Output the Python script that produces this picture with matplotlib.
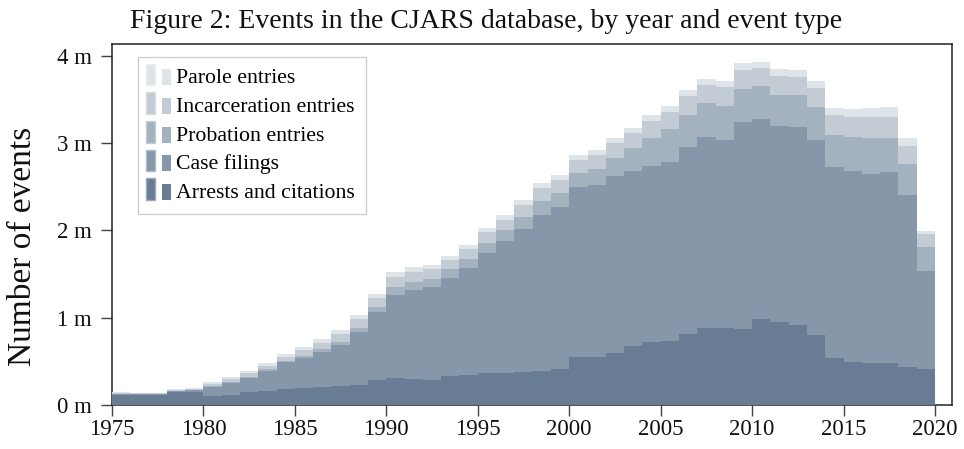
import matplotlib
matplotlib.use("Agg")
import matplotlib.pyplot as plt
import numpy as np
from matplotlib.patches import Rectangle
from matplotlib.legend_handler import HandlerBase
from matplotlib.colors import to_rgb

# ---- data (millions of events) ----
years = list(range(1975, 2020))
arrests = [0.111, 0.115, 0.115, 0.145, 0.149, 0.103, 0.115, 0.153, 0.164, 0.185,
           0.195, 0.210, 0.221, 0.233, 0.286, 0.309, 0.298, 0.286, 0.332, 0.347,
           0.363, 0.370, 0.382, 0.389, 0.412, 0.553, 0.553, 0.595, 0.679, 0.725,
           0.733, 0.813, 0.885, 0.885, 0.874, 0.985, 0.950, 0.916, 0.805, 0.542,
           0.496, 0.485, 0.481, 0.435, 0.412]
case_filings = [0.014, 0.008, 0.008, 0.015, 0.019, 0.103, 0.137, 0.160, 0.229, 0.302,
                0.343, 0.401, 0.466, 0.603, 0.779, 0.951, 1.019, 1.069, 1.126, 1.226,
                1.377, 1.508, 1.633, 1.787, 1.855, 1.943, 1.962, 2.027, 2.000, 2.012,
                2.049, 2.141, 2.184, 2.153, 2.366, 2.290, 2.248, 2.267, 2.233, 2.187,
                2.183, 2.164, 2.187, 1.970, 1.126]
probation = [0.003, 0.002, 0.002, 0.003, 0.004, 0.009, 0.010, 0.012, 0.017, 0.018,
             0.023, 0.030, 0.038, 0.049, 0.061, 0.087, 0.095, 0.092, 0.095, 0.103,
             0.115, 0.126, 0.138, 0.160, 0.160, 0.157, 0.187, 0.206, 0.264, 0.320,
             0.378, 0.367, 0.393, 0.386, 0.378, 0.378, 0.352, 0.367, 0.374, 0.363,
             0.390, 0.412, 0.393, 0.355, 0.271]
incarceration = [0.010, 0.007, 0.007, 0.012, 0.013, 0.030, 0.036, 0.037, 0.042, 0.043,
                 0.069, 0.073, 0.092, 0.100, 0.099, 0.119, 0.115, 0.106, 0.107, 0.106,
                 0.122, 0.114, 0.137, 0.149, 0.149, 0.152, 0.161, 0.172, 0.172, 0.199,
                 0.195, 0.217, 0.202, 0.217, 0.222, 0.206, 0.221, 0.210, 0.222, 0.232,
                 0.233, 0.237, 0.237, 0.206, 0.153]
parole = [0.007, 0.005, 0.005, 0.008, 0.010, 0.020, 0.022, 0.027, 0.031, 0.036,
          0.038, 0.042, 0.042, 0.049, 0.046, 0.057, 0.053, 0.050, 0.046, 0.050,
          0.046, 0.058, 0.057, 0.057, 0.058, 0.058, 0.057, 0.057, 0.057, 0.065,
          0.069, 0.069, 0.069, 0.069, 0.076, 0.068, 0.076, 0.076, 0.076, 0.077,
          0.091, 0.103, 0.118, 0.095, 0.030]

labels = ["Arrests and citations", "Case filings", "Probation entries",
          "Incarceration entries", "Parole entries"]
colors = ["#687c93", "#8697a9", "#a4b1be", "#c3cbd4", "#dfe4e9"]
x_ticks = [1975, 1980, 1985, 1990, 1995, 2000, 2005, 2010, 2015, 2020]
y_ticks = [0, 1, 2, 3, 4]
y_ticklabels = ["0 m", "1 m", "2 m", "3 m", "4 m"]

plt.rcParams["font.family"] = ["Liberation Serif", "DejaVu Serif"]

fig = plt.figure(figsize=(9.64, 4.49), dpi=100)
ax = fig.add_axes([112 / 964, 1 - 405 / 449, 840 / 964, 361 / 449])

edges = np.append(np.array(years), years[-1] + 1)
base = np.zeros(len(years))
handles = []
for lab, vals, col in zip(labels, [arrests, case_filings, probation, incarceration, parole], colors):
    top = base + np.array(vals)
    h = ax.stairs(top, edges, baseline=base, fill=True, color=col, lw=0, zorder=3, label=lab)
    handles.append(h)
    base = top

ax.set_xlim(1975, 2020.93)
ax.set_ylim(0, 4.134)
ax.set_xticks(x_ticks)
ax.set_yticks(y_ticks)
ax.set_yticklabels(y_ticklabels)
ax.tick_params(axis="both", direction="out", length=8.2, width=1.0, color="#444444",
               labelsize=16.5, labelcolor="#111111")
ax.tick_params(axis="x", pad=2)
ax.tick_params(axis="y", pad=6.5)
for s in ax.spines.values():
    s.set_color("#222222")
    s.set_linewidth(1.1)

fig.text(22.5 / 964, 1 - 246.5 / 449, "Number of events", rotation=90,
         ha="center", va="center", fontsize=24, color="#111111")

fig.text(486 / 964, 1 - 22 / 449, "Figure 2: Events in the CJARS database, by year and event type",
         ha="center", va="center", fontsize=20, color="#111111")


def lighten(c, f=0.35):
    r, g, b = to_rgb(c)
    return (r + (1 - r) * f, g + (1 - g) * f, b + (1 - b) * f)


class DoublePatch(HandlerBase):
    def create_artists(self, legend, orig_handle, xdescent, ydescent, width, height,
                       fontsize, trans):
        fc = orig_handle.get_facecolor()
        w = 6.5
        r1 = Rectangle((-xdescent - 2.2, -ydescent - 1.0), w, 15.5, facecolor=fc,
                       edgecolor=lighten(fc), lw=1.0, transform=trans)
        r2 = Rectangle((-xdescent + width - w, -ydescent - 1.0), w, 11.5, facecolor=fc,
                       edgecolor="none", transform=trans)
        return [r1, r2]


leg = ax.legend(handles[::-1], labels[::-1], loc="upper left",
                bbox_to_anchor=(26 / 840, (405 - 57) / 361), borderaxespad=0,
                fontsize=15.7, frameon=True, fancybox=False, framealpha=1,
                edgecolor="#cccccc", handlelength=1.01, handleheight=0.75,
                handletextpad=0.23, labelspacing=0.37, borderpad=0.5,
                handler_map={h: DoublePatch() for h in handles})
leg.get_frame().set_linewidth(0.9)
leg.set_zorder(5)

fig.savefig("out.png", dpi=100)
